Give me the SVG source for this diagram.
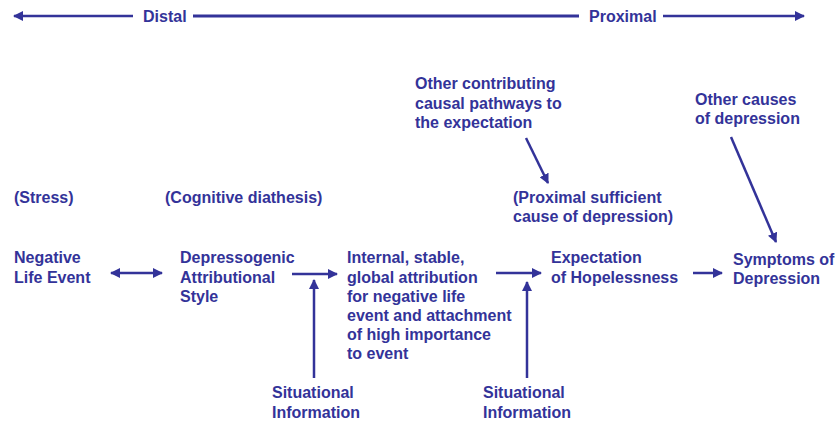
<svg xmlns="http://www.w3.org/2000/svg" width="837" height="423" viewBox="0 0 837 423">
  <style>
    text { font-family: "Liberation Sans", Arial, sans-serif; font-weight: bold; font-size: 16px; fill: #333399; }
    .ln { stroke: #333399; stroke-width: 2.5; fill: none; }
    .thick { stroke-width: 3; }
  </style>
  <defs>
    <marker id="head" viewBox="0 0 10 10" refX="9" refY="5" markerWidth="4" markerHeight="4" orient="auto-start-reverse" markerUnits="strokeWidth">
      <path d="M0,0 L10,5 L0,10 Z" fill="#333399"/>
    </marker>
  </defs>
  <rect width="837" height="423" fill="#ffffff"/>

  <!-- distal / proximal scale -->
  <g id="scale">
    <line class="ln" x1="14" y1="16" x2="133" y2="16" marker-start="url(#head)"/>
    <text x="143" y="22">Distal</text>
    <line class="ln thick" x1="193" y1="16" x2="579" y2="16"/>
    <text x="589" y="22">Proximal</text>
    <line class="ln" x1="663" y1="16" x2="804" y2="16" marker-end="url(#head)"/>
  </g>

  <g id="stress-label"><text x="14" y="203">(Stress)</text></g>
  <g id="diathesis-label"><text x="165" y="203">(Cognitive diathesis)</text></g>
  <g id="proximal-label">
    <text x="513" y="203">(Proximal sufficient</text>
    <text x="513" y="222">cause of depression)</text>
  </g>

  <g id="other-pathways">
    <text x="415" y="89">Other contributing</text>
    <text x="415" y="109">causal pathways to</text>
    <text x="415" y="128">the expectation</text>
  </g>
  <g id="other-causes">
    <text x="695" y="105">Other causes</text>
    <text x="695" y="124">of depression</text>
  </g>

  <g id="negative-life-event">
    <text x="14" y="263">Negative</text>
    <text x="14" y="283">Life Event</text>
  </g>
  <g id="attributional-style">
    <text x="180" y="263">Depressogenic</text>
    <text x="180" y="283">Attributional</text>
    <text x="180" y="302">Style</text>
  </g>
  <g id="attribution">
    <text x="347" y="263">Internal, stable,</text>
    <text x="347" y="283">global attribution</text>
    <text x="347" y="302">for negative life</text>
    <text x="347" y="321">event and attachment</text>
    <text x="347" y="340">of high importance</text>
    <text x="347" y="359">to event</text>
  </g>
  <g id="hopelessness">
    <text x="551" y="263">Expectation</text>
    <text x="551" y="283">of Hopelessness</text>
  </g>
  <g id="symptoms">
    <text x="733" y="265">Symptoms of</text>
    <text x="733" y="284">Depression</text>
  </g>
  <g id="situational-1">
    <text x="272" y="398">Situational</text>
    <text x="272" y="418">Information</text>
  </g>
  <g id="situational-2">
    <text x="483" y="398">Situational</text>
    <text x="483" y="418">Information</text>
  </g>

  <g id="connectors">
    <line class="ln" x1="111" y1="273" x2="162" y2="273" marker-start="url(#head)" marker-end="url(#head)"/>
    <line class="ln" x1="292" y1="274" x2="337" y2="274" marker-end="url(#head)"/>
    <line class="ln" x1="314" y1="378" x2="314" y2="280" marker-end="url(#head)"/>
    <line class="ln" x1="496" y1="273" x2="541" y2="273" marker-end="url(#head)"/>
    <line class="ln" x1="527" y1="378" x2="527" y2="282" marker-end="url(#head)"/>
    <line class="ln" x1="693" y1="273" x2="722" y2="273" marker-end="url(#head)"/>
    <line class="ln" x1="526" y1="138" x2="548" y2="183" marker-end="url(#head)"/>
    <line class="ln" x1="731" y1="137" x2="776" y2="242" marker-end="url(#head)"/>
  </g>
</svg>
